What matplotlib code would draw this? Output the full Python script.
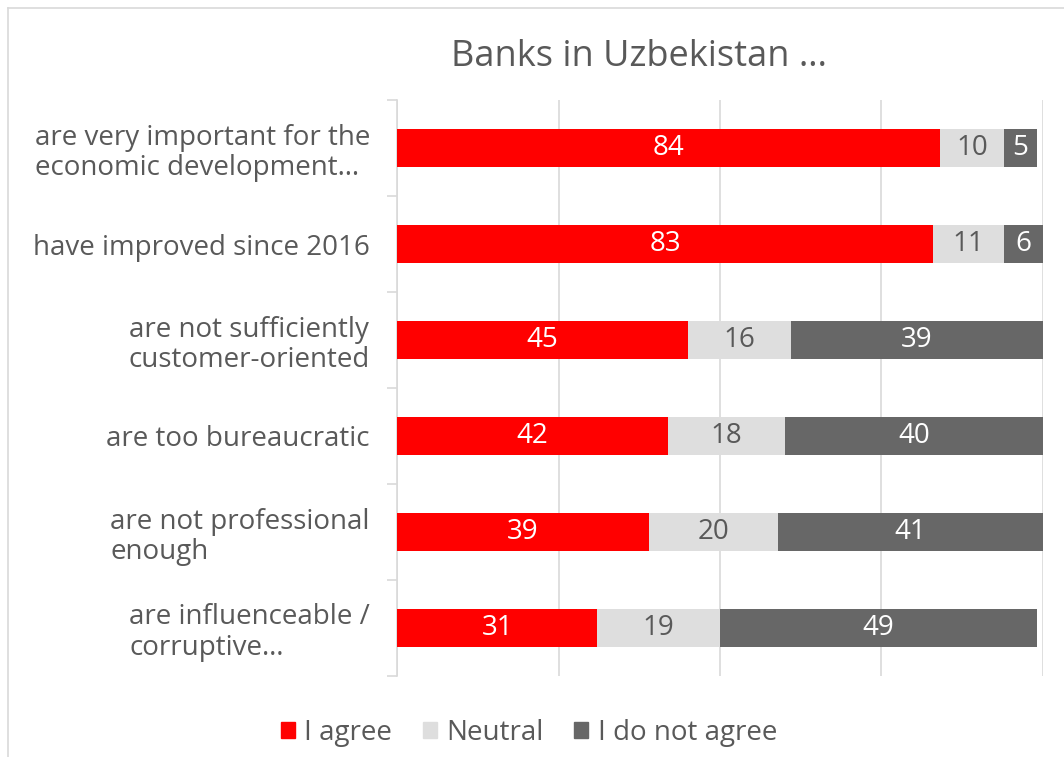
import matplotlib
matplotlib.use("Agg")
import matplotlib.pyplot as plt
from matplotlib.patches import Rectangle
from matplotlib.lines import Line2D
import numpy as np

plt.rcParams['font.family'] = ['Open Sans', 'DejaVu Sans']

categories = [
    "are very important for the\neconomic development…",
    "have improved since 2016",
    "are not sufficiently\ncustomer-oriented",
    "are too bureaucratic",
    "are not professional\nenough",
    "are influenceable /\ncorruptive…",
]
agree = [84, 83, 45, 42, 39, 31]
neutral = [10, 11, 16, 18, 20, 19]
disagree = [5, 6, 39, 40, 41, 49]
series_names = ["I agree", "Neutral", "I do not agree"]
title = "Banks in Uzbekistan …"

c_agree = "#FF0000"
c_neutral = "#DEDEDE"
c_disagree = "#676767"
text_col = "#595959"
grid_col = "#D9D9D9"

W, H = 1064, 757
fig = plt.figure(figsize=(W / 100, H / 100), dpi=100)

# outer frame of the chart area (top and left edges)
fig.add_artist(Line2D([8 / W, 8 / W], [0, 1 - 8 / H], transform=fig.transFigure,
                      color=grid_col, lw=1.2))
fig.add_artist(Line2D([8 / W, 1], [1 - 8 / H, 1 - 8 / H], transform=fig.transFigure,
                      color=grid_col, lw=1.2))

ax_l, ax_r, ax_t, ax_b = 397, 1043, 100, 676
ax = fig.add_axes([ax_l / W, 1 - ax_b / H, (ax_r - ax_l) / W, (ax_b - ax_t) / H])

y = np.arange(len(categories))
h = 0.4
left2 = np.array(agree)
left3 = left2 + np.array(neutral)
ax.barh(y, agree, height=h, color=c_agree, zorder=3)
ax.barh(y, neutral, left=left2, height=h, color=c_neutral, zorder=3)
ax.barh(y, disagree, left=left3, height=h, color=c_disagree, zorder=3)

fs = 20
for i in range(len(categories)):
    ax.text(agree[i] / 2, y[i], str(agree[i]), ha="center", va="center",
            color="white", fontsize=fs, zorder=4)
    ax.text(left2[i] + neutral[i] / 2, y[i], str(neutral[i]), ha="center",
            va="center", color=text_col, fontsize=fs, zorder=4)
    ax.text(left3[i] + disagree[i] / 2, y[i], str(disagree[i]), ha="center",
            va="center", color="white", fontsize=fs, zorder=4)

ax.set_xlim(0, 100)
ax.set_ylim(len(categories) - 0.5, -0.5)
ax.set_xticks([0, 25, 50, 75, 100])
ax.tick_params(axis="x", length=0, labelbottom=False)
ax.grid(axis="x", color=grid_col, lw=1.2, zorder=0)

ax.set_yticks(y)
ax.set_yticklabels(categories, fontsize=fs, color=text_col, linespacing=1.1)
ax.tick_params(axis="y", which="major", length=0, pad=19.5)
ax.set_yticks(np.arange(-0.5, len(categories), 1.0), minor=True)
ax.tick_params(axis="y", which="minor", length=7, width=1.2, color=grid_col)
for lbl in ax.get_yticklabels():
    lbl.set_horizontalalignment("right")
    lbl.set_multialignment("left")

for s in ["top", "right", "bottom"]:
    ax.spines[s].set_visible(False)
ax.spines["left"].set_color(grid_col)
ax.spines["left"].set_linewidth(1.2)

fig.text(639 / W, 1 - 57 / H, title, ha="center", va="center",
         fontsize=26, color=text_col)

handles = [Rectangle((0, 0), 1, 1, color=c) for c in (c_agree, c_neutral, c_disagree)]
fig.legend(handles, series_names, loc="center", bbox_to_anchor=(529 / W, 1 - 733 / H),
           ncol=3, frameon=False, fontsize=fs, labelcolor=text_col,
           handlelength=0.5, handleheight=0.5, handletextpad=0.35, columnspacing=1.1)

fig.savefig("out.png", dpi=100)
